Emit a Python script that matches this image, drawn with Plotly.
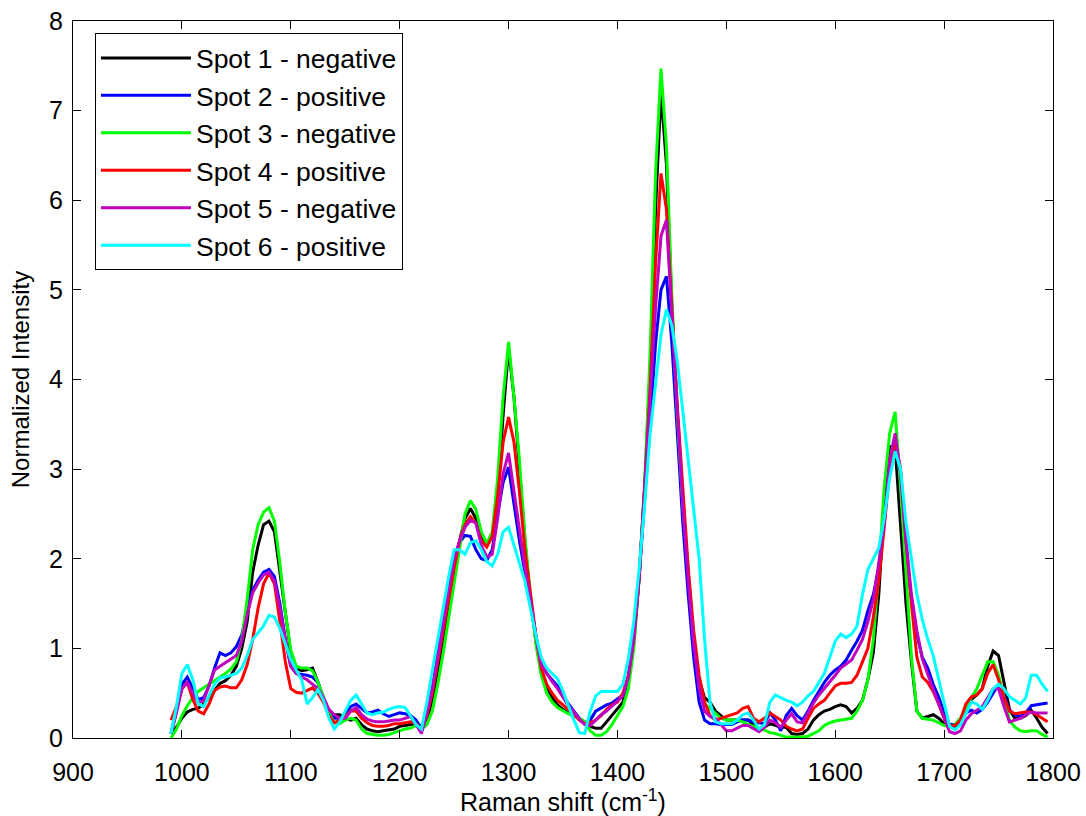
import plotly.graph_objects as go

# Raman shift grid (cm^-1), 5 cm^-1 spacing from 990 to 1795
raman_shift = list(range(990, 1800, 5))

spot1_negative = [
    0.05, 0.12, 0.22, 0.29, 0.32, 0.33, 0.38, 0.45, 0.53, 0.61,
    0.64, 0.70, 0.80, 1.00, 1.30, 1.85, 2.15, 2.38, 2.42, 2.30,
    1.85, 1.35, 0.95, 0.78, 0.75, 0.76, 0.78, 0.62, 0.42, 0.30,
    0.26, 0.26, 0.22, 0.20, 0.22, 0.15, 0.10, 0.08, 0.07, 0.08,
    0.09, 0.10, 0.13, 0.14, 0.15, 0.16, 0.13, 0.22, 0.42, 0.75,
    1.10, 1.50, 1.85, 2.20, 2.45, 2.56, 2.45, 2.25, 2.15, 2.25,
    2.70, 3.60, 4.35, 3.80, 3.00, 2.20, 1.55, 1.10, 0.75, 0.58,
    0.45, 0.37, 0.32, 0.28, 0.25, 0.22, 0.18, 0.13, 0.11, 0.11,
    0.18, 0.25, 0.33, 0.40, 0.65, 1.05, 1.80, 2.80, 4.10, 5.90,
    7.20, 6.40, 4.80, 3.60, 2.60, 1.80, 1.10, 0.65, 0.45, 0.40,
    0.30, 0.25, 0.20, 0.20, 0.20, 0.20, 0.20, 0.15, 0.10, 0.12,
    0.16, 0.14, 0.12, 0.12, 0.05, 0.04, 0.05, 0.10, 0.20, 0.26,
    0.30, 0.32, 0.35, 0.37, 0.35, 0.28, 0.33, 0.42, 0.65, 0.95,
    1.60, 2.60, 3.25, 3.25, 2.40, 1.50, 0.85, 0.30, 0.22, 0.24,
    0.26, 0.22, 0.16, 0.13, 0.13, 0.16, 0.30, 0.43, 0.48, 0.55,
    0.80, 0.97, 0.92, 0.60, 0.32, 0.22, 0.22, 0.25, 0.31, 0.22,
    0.12, 0.05,
]

spot2_positive = [
    0.05, 0.30, 0.60, 0.68, 0.55, 0.43, 0.45, 0.58, 0.78, 0.95,
    0.92, 0.95, 1.02, 1.15, 1.42, 1.65, 1.76, 1.85, 1.88, 1.80,
    1.50, 1.10, 0.80, 0.72, 0.71, 0.70, 0.68, 0.62, 0.45, 0.30,
    0.22, 0.22, 0.25, 0.35, 0.38, 0.33, 0.28, 0.29, 0.31, 0.27,
    0.24, 0.26, 0.28, 0.27, 0.25, 0.20, 0.10, 0.30, 0.55, 0.95,
    1.35, 1.70, 2.00, 2.18, 2.26, 2.25, 2.10, 2.00, 1.98, 2.10,
    2.50, 2.85, 3.02, 2.60, 2.20, 1.85, 1.55, 1.15, 0.82, 0.72,
    0.65, 0.58, 0.48, 0.38, 0.30, 0.22, 0.16, 0.20, 0.30, 0.34,
    0.37, 0.39, 0.43, 0.48, 0.68, 1.10, 1.80, 2.70, 3.60, 4.40,
    5.00, 5.15, 4.40, 3.40, 2.40, 1.60, 0.90, 0.40, 0.20, 0.16,
    0.16, 0.15, 0.15, 0.15, 0.18, 0.20, 0.20, 0.18, 0.17, 0.16,
    0.28, 0.20, 0.08, 0.25, 0.33, 0.25, 0.20, 0.30, 0.42, 0.52,
    0.62, 0.70, 0.76, 0.80, 0.87, 0.98, 1.08, 1.20, 1.42, 1.60,
    1.90, 2.40, 3.05, 3.30, 2.90, 2.10, 1.55, 1.15, 0.90, 0.78,
    0.60, 0.46, 0.28, 0.15, 0.15, 0.17, 0.28, 0.31, 0.28, 0.32,
    0.40, 0.50, 0.60, 0.48, 0.31, 0.26, 0.24, 0.28, 0.36, 0.37,
    0.38, 0.39,
]

spot3_negative = [
    0.00, 0.10, 0.25, 0.36, 0.45, 0.52, 0.56, 0.60, 0.64, 0.68,
    0.72, 0.77, 0.85, 1.10, 1.55, 2.10, 2.38, 2.52, 2.57, 2.42,
    1.95, 1.40, 0.98, 0.80, 0.78, 0.78, 0.75, 0.62, 0.45, 0.28,
    0.17, 0.16, 0.20, 0.22, 0.20, 0.10, 0.05, 0.04, 0.03, 0.03,
    0.04, 0.06, 0.08, 0.10, 0.11, 0.14, 0.10, 0.15, 0.30, 0.60,
    0.95, 1.35, 1.70, 2.15, 2.50, 2.65, 2.55, 2.30, 2.17, 2.30,
    2.90, 3.80, 4.42, 3.80, 3.10, 2.25, 1.60, 1.05, 0.70, 0.50,
    0.40, 0.34, 0.30, 0.27, 0.25, 0.22, 0.18, 0.08, 0.03, 0.03,
    0.07, 0.15, 0.25, 0.35, 0.55, 1.00, 1.80, 2.85, 4.30, 6.30,
    7.47, 6.60, 4.90, 3.60, 2.60, 1.80, 1.10, 0.60, 0.38, 0.33,
    0.28, 0.22, 0.20, 0.20, 0.20, 0.18, 0.15, 0.13, 0.10, 0.09,
    0.06, 0.05, 0.03, 0.01, 0.01, 0.01, 0.01, 0.02, 0.05, 0.08,
    0.14, 0.17, 0.19, 0.20, 0.21, 0.22, 0.30, 0.42, 0.65, 1.10,
    1.85, 2.80, 3.40, 3.64, 2.80, 1.85, 0.90, 0.30, 0.22, 0.21,
    0.20, 0.17, 0.14, 0.13, 0.15, 0.22, 0.34, 0.45, 0.55, 0.70,
    0.85, 0.85, 0.70, 0.45, 0.20, 0.12, 0.08, 0.07, 0.08, 0.08,
    0.04, 0.01,
]

spot4_positive = [
    0.20, 0.35, 0.55, 0.62, 0.43, 0.30, 0.27, 0.38, 0.53, 0.57,
    0.58, 0.56, 0.56, 0.65, 0.82, 1.10, 1.45, 1.72, 1.84, 1.72,
    1.30, 0.85, 0.55, 0.51, 0.50, 0.53, 0.56, 0.50, 0.40, 0.25,
    0.17, 0.20, 0.24, 0.30, 0.30, 0.22, 0.17, 0.14, 0.13, 0.13,
    0.14, 0.16, 0.16, 0.17, 0.18, 0.16, 0.10, 0.25, 0.50, 0.85,
    1.20, 1.55, 1.90, 2.20, 2.38, 2.47, 2.40, 2.20, 2.13, 2.25,
    2.70, 3.30, 3.58, 3.30, 2.75, 2.10, 1.60, 1.15, 0.78, 0.60,
    0.50, 0.42, 0.37, 0.32, 0.26, 0.20, 0.16, 0.17, 0.20, 0.25,
    0.32, 0.37, 0.40, 0.50, 0.70, 1.10, 1.80, 2.80, 3.90, 5.30,
    6.30, 5.90, 4.80, 3.70, 2.80, 1.90, 1.20, 0.70, 0.40, 0.25,
    0.20, 0.22, 0.24, 0.26, 0.28, 0.33, 0.35, 0.22, 0.18, 0.22,
    0.28, 0.24, 0.20, 0.13, 0.10, 0.08, 0.10, 0.22, 0.33, 0.38,
    0.42, 0.50, 0.58, 0.61, 0.61, 0.62, 0.70, 0.85, 1.00, 1.35,
    1.75, 2.35, 3.00, 3.33, 3.00, 2.20, 1.50, 0.90, 0.68, 0.62,
    0.52, 0.38, 0.22, 0.14, 0.14, 0.20, 0.38, 0.46, 0.48, 0.55,
    0.72, 0.82, 0.65, 0.45, 0.30, 0.27, 0.28, 0.29, 0.29, 0.26,
    0.22, 0.18,
]

spot5_negative = [
    0.05, 0.28, 0.55, 0.62, 0.50, 0.39, 0.42, 0.60, 0.76, 0.80,
    0.84, 0.88, 0.92, 1.08, 1.38, 1.62, 1.73, 1.82, 1.85, 1.75,
    1.45, 1.10, 0.80, 0.72, 0.68, 0.65, 0.60, 0.55, 0.45, 0.32,
    0.26, 0.22, 0.22, 0.30, 0.34, 0.26, 0.21, 0.19, 0.18, 0.18,
    0.19, 0.20, 0.20, 0.22, 0.24, 0.15, 0.05, 0.28, 0.55, 0.90,
    1.30, 1.65, 2.00, 2.20, 2.35, 2.43, 2.40, 2.15, 2.02, 2.05,
    2.45, 2.95, 3.18, 2.75, 2.30, 1.90, 1.55, 1.15, 0.82, 0.72,
    0.63, 0.55, 0.45, 0.36, 0.29, 0.21, 0.15, 0.14, 0.20, 0.26,
    0.30, 0.36, 0.41, 0.47, 0.68, 1.10, 1.80, 2.75, 3.80, 4.80,
    5.60, 5.78, 4.70, 3.60, 2.60, 1.75, 1.05, 0.55, 0.30, 0.24,
    0.22, 0.15, 0.08, 0.08, 0.11, 0.14, 0.14, 0.10, 0.07, 0.12,
    0.20, 0.17, 0.12, 0.20, 0.27, 0.18, 0.17, 0.28, 0.39, 0.48,
    0.55, 0.63, 0.70, 0.78, 0.83, 0.87, 0.98, 1.10, 1.30, 1.55,
    1.95, 2.40, 3.10, 3.40, 2.95, 2.20, 1.60, 1.20, 0.88, 0.70,
    0.54, 0.38, 0.22, 0.07, 0.05, 0.08, 0.20, 0.27, 0.31, 0.35,
    0.45, 0.55, 0.55, 0.35, 0.18, 0.20, 0.22, 0.26, 0.29, 0.28,
    0.28, 0.28,
]

spot6_positive = [
    0.05, 0.35, 0.72, 0.82, 0.65, 0.38, 0.35, 0.48, 0.60, 0.67,
    0.68, 0.70, 0.72, 0.78, 0.92, 1.10, 1.17, 1.25, 1.37, 1.35,
    1.22, 1.05, 0.88, 0.76, 0.65, 0.38, 0.45, 0.54, 0.42, 0.22,
    0.10, 0.18, 0.30, 0.42, 0.48, 0.38, 0.28, 0.26, 0.28, 0.29,
    0.32, 0.34, 0.35, 0.34, 0.25, 0.15, 0.10, 0.40, 0.75, 1.10,
    1.47, 1.80, 2.10, 2.10, 2.05, 2.18, 2.20, 2.10, 1.97, 1.92,
    2.05, 2.30, 2.35, 2.15, 1.95, 1.75, 1.45, 1.15, 0.90, 0.78,
    0.72, 0.66, 0.52, 0.35, 0.20, 0.06, 0.05, 0.30, 0.47, 0.52,
    0.52, 0.52, 0.52, 0.60, 0.88, 1.30, 1.90, 2.60, 3.40, 3.95,
    4.50, 4.78, 4.60, 4.20, 3.65, 3.15, 2.60, 2.00, 1.10, 0.40,
    0.18, 0.16, 0.16, 0.16, 0.20, 0.26, 0.28, 0.20, 0.10, 0.15,
    0.40, 0.48, 0.45, 0.42, 0.40, 0.36, 0.40, 0.47, 0.52, 0.62,
    0.72, 0.90, 1.08, 1.16, 1.12, 1.16, 1.25, 1.60, 1.88, 2.00,
    2.12, 2.45, 2.90, 3.20, 3.00, 2.40, 2.00, 1.60, 1.32, 1.10,
    0.92, 0.65, 0.40, 0.13, 0.09, 0.15, 0.27, 0.40, 0.38, 0.32,
    0.42, 0.55, 0.60, 0.55, 0.46, 0.42, 0.38, 0.45, 0.70, 0.70,
    0.60, 0.52,
]

series_names = [
    "Spot 1 - negative", "Spot 2 - positive", "Spot 3 - negative",
    "Spot 4 - positive", "Spot 5 - negative", "Spot 6 - positive",
]
series_values = [spot1_negative, spot2_positive, spot3_negative,
                 spot4_positive, spot5_negative, spot6_positive]
series_colors = ["#000000", "#0000FF", "#00FF00", "#FF0000", "#BF00BF", "#00FFFF"]

x_ticks = [900, 1000, 1100, 1200, 1300, 1400, 1500, 1600, 1700, 1800]
y_ticks = [0, 1, 2, 3, 4, 5, 6, 7, 8]

fig = go.Figure()
for name, vals, col in zip(series_names, series_values, series_colors):
    fig.add_trace(go.Scatter(
        x=raman_shift, y=vals, mode="lines", name=name,
        line=dict(color=col, width=3),
    ))

font_family = "Liberation Sans, Arial, sans-serif"
axis_common = dict(
    showline=True, linecolor="black", linewidth=1, mirror="ticks",
    ticks="inside", ticklen=8, tickcolor="black", tickwidth=1,
    showgrid=False, zeroline=False, automargin=False,
    tickfont=dict(family=font_family, size=25, color="black"),
)

fig.update_layout(
    width=1086, height=816,
    margin=dict(l=73, r=33, t=21, b=78),
    paper_bgcolor="white", plot_bgcolor="white",
    font=dict(family=font_family, color="black"),
    xaxis=dict(
        range=[900, 1800], tickvals=x_ticks, ticklabelstandoff=12,
        title=dict(text="Raman shift (cm<sup>-1</sup>)", font=dict(size=25), standoff=2),
        **axis_common,
    ),
    yaxis=dict(
        range=[0, 8], tickvals=y_ticks, ticklabelstandoff=4,
        title=dict(text="Normalized Intensity", font=dict(size=24), standoff=12),
        **axis_common,
    ),
    legend=dict(
        x=0.0224, y=0.983, xanchor="left", yanchor="top",
        bgcolor="white", bordercolor="black", borderwidth=1,
        font=dict(family=font_family, size=26.5, color="black"),
        tracegroupgap=0, itemwidth=90,
    ),
    showlegend=True,
)

fig.write_html("out.html")
